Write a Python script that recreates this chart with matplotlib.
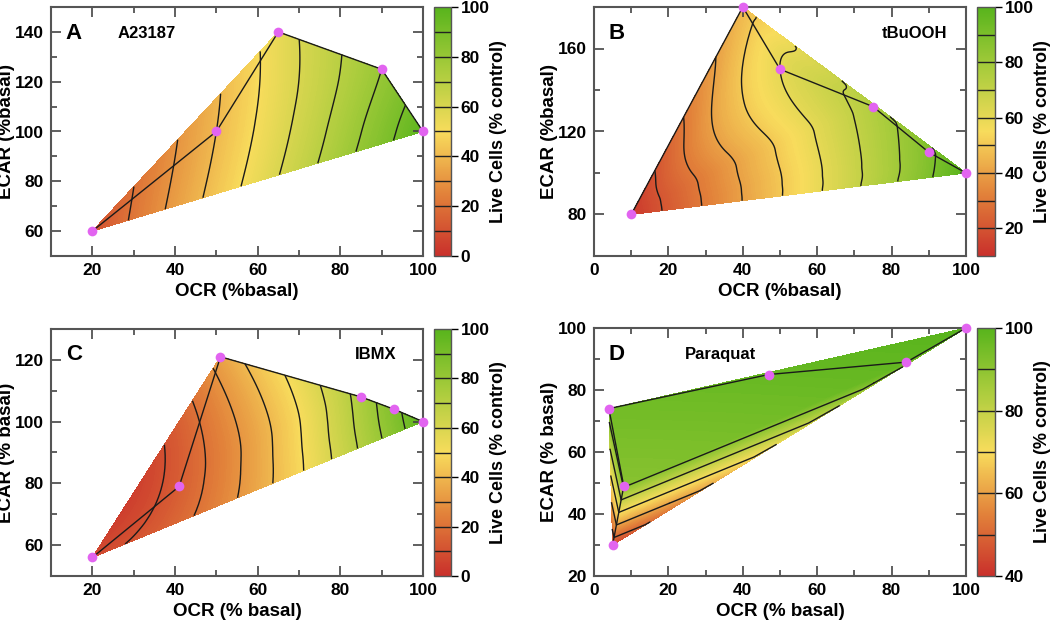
import numpy as np
import matplotlib
matplotlib.use("Agg")
import matplotlib.pyplot as plt
import matplotlib.tri as mtri
from matplotlib.colors import LinearSegmentedColormap, Normalize
from matplotlib.cm import ScalarMappable
from matplotlib.ticker import MultipleLocator

plt.rcParams['font.family'] = ['Liberation Sans', 'DejaVu Sans']
plt.rcParams['font.weight'] = 'bold'

# dose-response points: OCR, ECAR, live cells
a_ocr = [20, 50, 65, 90, 100]
a_ecar = [60, 100, 140, 125, 100]
a_live = [10, 40, 55, 80, 98]

b_ocr = [10, 40, 50, 75, 90, 100]
b_ecar = [80, 180, 150, 132, 110, 100]
b_live = [12, 46, 60, 75, 88, 100]

c_ocr = [20, 41, 51, 85, 93, 100]
c_ecar = [56, 79, 121, 108, 104, 100]
c_live = [8, 14, 34, 74, 87, 98]

d_ocr = [5, 8, 4, 47, 84, 100]
d_ecar = [30, 49, 74, 85, 89, 100]
d_live = [44, 91, 95, 97, 98, 100]
# mesh for the paraquat points (indices into the lists above)
d_tris = [[0, 1, 2], [0, 4, 1], [0, 5, 4], [1, 4, 3], [3, 4, 5], [1, 3, 2], [2, 3, 5]]

cmap = LinearSegmentedColormap.from_list('live', [
    (0.0, '#c9302b'), (0.25, '#e2823a'), (0.5, '#f8dc5c'),
    (0.75, '#a9cc3c'), (1.0, '#58b41c')])

W, H = 1050, 632
fig = plt.figure(figsize=(W / 100, H / 100), dpi=100)


def box(l, t, r, b):
    return [l / W, 1 - b / H, (r - l) / W, (b - t) / H]


def panel(ax_box, cb_box, x, y, z, xlim, ylim, xmaj, ymaj, ymin, cbrange,
          letter, name, name_x, name_ha, xlabel, ylabel, kind, tris=None):
    ax = fig.add_axes(box(*ax_box))
    cax = fig.add_axes(box(*cb_box))
    x = np.array(x, float)
    y = np.array(y, float)
    z = np.array(z, float)
    tri = mtri.Triangulation(x, y, tris)
    refiner = mtri.UniformTriRefiner(tri)
    if kind == 'linear':
        interp = mtri.LinearTriInterpolator(tri, z)
    else:
        interp = mtri.CubicTriInterpolator(tri, z, kind=kind)
    tri_f, z_f = refiner.refine_field(z, triinterpolator=interp, subdiv=5)
    vmin, vmax = cbrange
    norm = Normalize(vmin, vmax)
    ax.tricontourf(tri_f, z_f, levels=np.linspace(-20, 130, 301), cmap=cmap,
                   norm=norm, extend='both')
    lines = np.arange(vmin + 10, vmax, 10)
    ax.tricontour(tri_f, z_f, levels=lines, colors='#1a1a1a', linewidths=1.0)
    ax.plot(x, y, color='#1a1a1a', lw=1.0)
    ax.plot(x, y, 'o', color='#e264f0', ms=7, mec='none', clip_on=False, zorder=5)
    ax.set_xlim(*xlim)
    ax.set_ylim(*ylim)
    ax.xaxis.set_major_locator(MultipleLocator(xmaj))
    ax.xaxis.set_minor_locator(MultipleLocator(10))
    ax.yaxis.set_major_locator(MultipleLocator(ymaj))
    ax.yaxis.set_minor_locator(MultipleLocator(ymin))
    ax.tick_params(which='both', direction='in', top=True, right=True,
                   labelsize=12.5, colors='#444444', labelcolor='black', width=1.2)
    ax.tick_params(which='major', length=7, pad=5)
    ax.tick_params(which='minor', length=4)
    for s in ax.spines.values():
        s.set_color('#555555')
        s.set_linewidth(1.5)
    ax.set_xlabel(xlabel, fontsize=13.5, fontweight='bold', labelpad=4)
    ax.set_ylabel(ylabel, fontsize=13.5, fontweight='bold', labelpad=0)
    ax.text(0.04, 0.895, letter, transform=ax.transAxes, fontsize=16,
            fontweight='bold', va='center')
    ax.text(name_x, 0.895, name, transform=ax.transAxes, fontsize=12,
            fontweight='bold', va='center', ha=name_ha)

    sm = ScalarMappable(norm=norm, cmap=cmap)
    cb = fig.colorbar(sm, cax=cax)
    for lv in lines:
        cax.axhline(lv, color='#222222', lw=1.0)
    cb.set_ticks(np.arange(vmin if vmin % 20 == 0 else vmin + 10, vmax + 1, 20))
    cax.tick_params(direction='out', length=5, width=1.0, labelsize=12.5, pad=2)
    cb.outline.set_edgecolor('#555555')
    cb.outline.set_linewidth(1.0)
    cb.set_label('Live Cells (% control)', fontsize=13, fontweight='bold', labelpad=0)
    return ax


panel((51, 7, 423, 256), (434, 7, 451, 256), a_ocr, a_ecar, a_live,
      (10, 100), (50, 150), 20, 20, 10, (0, 100),
      'A', 'A23187', 0.18, 'left', 'OCR (%basal)', 'ECAR (%basal)', 'min_E')
panel((594, 7, 966, 256), (977, 7, 995, 256), b_ocr, b_ecar, b_live,
      (0, 100), (60, 180), 20, 40, 20, (10, 100),
      'B', 'tBuOOH', 0.95, 'right', 'OCR (%basal)', 'ECAR (%basal)', 'geom')
panel((51, 329, 423, 576), (434, 329, 451, 576), c_ocr, c_ecar, c_live,
      (10, 100), (50, 130), 20, 20, 10, (0, 100),
      'C', 'IBMX', 0.93, 'right', 'OCR (% basal)', 'ECAR (% basal)', 'min_E')
panel((594, 328, 966, 576), (977, 328, 995, 576), d_ocr, d_ecar, d_live,
      (0, 100), (20, 100), 20, 20, 10, (40, 100),
      'D', 'Paraquat', 0.245, 'left', 'OCR (% basal)', 'ECAR (% basal)', 'linear',
      d_tris)

fig.savefig('out.png', dpi=100)
